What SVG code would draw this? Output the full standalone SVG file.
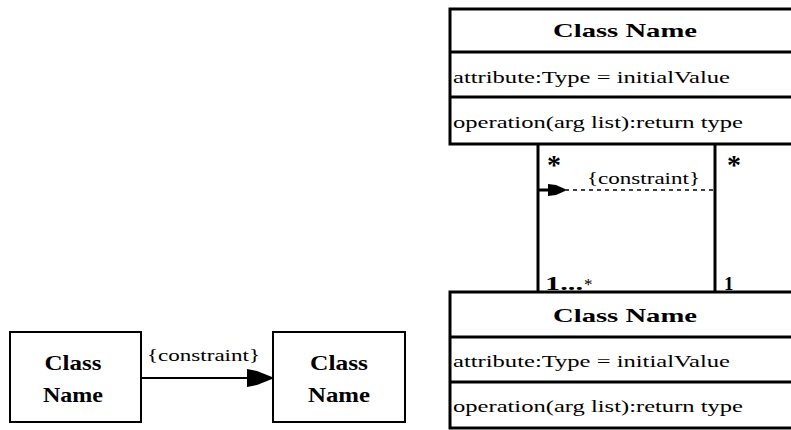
<svg xmlns="http://www.w3.org/2000/svg" width="791" height="430" viewBox="0 0 791 430">
<style>
.box{fill:#fff;stroke:#000;stroke-width:3}
.sbox{fill:#fff;stroke:#000;stroke-width:2}
.sep{stroke:#000;stroke-width:3}
.t{font-family:"Liberation Serif","Times New Roman",serif;font-size:17px;fill:#000}
.h{font-family:"Liberation Serif","Times New Roman",serif;font-size:19px;font-weight:bold;fill:#000}
.n{font-family:"Liberation Serif","Times New Roman",serif;font-size:21px;font-weight:bold;fill:#000}
.m{font-family:"Liberation Serif","Times New Roman",serif;font-size:19px;font-weight:bold;fill:#000}
.s{font-family:"Liberation Serif","Times New Roman",serif;font-size:28px;font-weight:bold;fill:#000}
.c{font-family:"Liberation Serif","Times New Roman",serif;font-size:17px;fill:#000}
.ln{stroke:#000;stroke-width:3;fill:none}
.ar{stroke:#000;stroke-width:2;fill:none}
.dash{stroke:#000;stroke-width:1.5;stroke-dasharray:4 4;fill:none}
</style>
<g id="class-top">
<rect class="box" x="450" y="9" width="345" height="135"/>
<line class="sep" x1="450" y1="52" x2="791" y2="52"/>
<line class="sep" x1="450" y1="97" x2="791" y2="97"/>
<text class="h" x="625" y="37" text-anchor="middle" textLength="144" lengthAdjust="spacingAndGlyphs">Class Name</text>
<text class="t" x="453" y="83" textLength="277" lengthAdjust="spacingAndGlyphs">attribute:Type = initialValue</text>
<text class="t" x="453" y="128" textLength="290" lengthAdjust="spacingAndGlyphs">operation(arg list):return type</text>
</g>
<g id="class-bottom">
<rect class="box" x="450" y="292" width="345" height="136"/>
<line class="sep" x1="450" y1="337" x2="791" y2="337"/>
<line class="sep" x1="450" y1="382" x2="791" y2="382"/>
<text class="h" x="625" y="322" text-anchor="middle" textLength="144" lengthAdjust="spacingAndGlyphs">Class Name</text>
<text class="t" x="453" y="367" textLength="277" lengthAdjust="spacingAndGlyphs">attribute:Type = initialValue</text>
<text class="t" x="453" y="412" textLength="290" lengthAdjust="spacingAndGlyphs">operation(arg list):return type</text>
</g>
<g id="class-left">
<rect class="sbox" x="10" y="332" width="131" height="90"/>
<text class="n" x="73" y="370" text-anchor="middle" textLength="57" lengthAdjust="spacingAndGlyphs">Class</text>
<text class="n" x="73" y="402" text-anchor="middle" textLength="60" lengthAdjust="spacingAndGlyphs">Name</text>
</g>
<g id="class-right">
<rect class="sbox" x="273" y="332" width="132" height="90"/>
<text class="n" x="339" y="370" text-anchor="middle" textLength="58" lengthAdjust="spacingAndGlyphs">Class</text>
<text class="n" x="339" y="402" text-anchor="middle" textLength="62" lengthAdjust="spacingAndGlyphs">Name</text>
</g>
<g id="connectors">
<line class="ln" x1="538" y1="144" x2="538" y2="292"/>
<line class="ln" x1="715" y1="144" x2="715" y2="292"/>
<line class="dash" x1="565" y1="190" x2="715" y2="190"/>
<rect x="538" y="188.5" width="11" height="3" fill="#000"/>
<polygon points="548,184 556,185 565,189 565,191 556,195 548,196" fill="#000"/>
<text class="c" x="587" y="184" textLength="113" lengthAdjust="spacingAndGlyphs">{constraint}</text>
<text class="s" x="554" y="174" text-anchor="middle">*</text>
<text class="s" x="734" y="174" text-anchor="middle">*</text>
<text class="m" x="545" y="290" textLength="38" lengthAdjust="spacingAndGlyphs">1...</text><text class="c" x="584" y="290">*</text>
<text class="m" x="724" y="290">1</text>
<line class="ar" x1="141" y1="378" x2="250" y2="378"/>
<polygon points="247,369 257,371 272,377 272,379 257,385 247,387" fill="#000"/>
<text class="c" x="147" y="361" textLength="113" lengthAdjust="spacingAndGlyphs">{constraint}</text>
</g>
</svg>
